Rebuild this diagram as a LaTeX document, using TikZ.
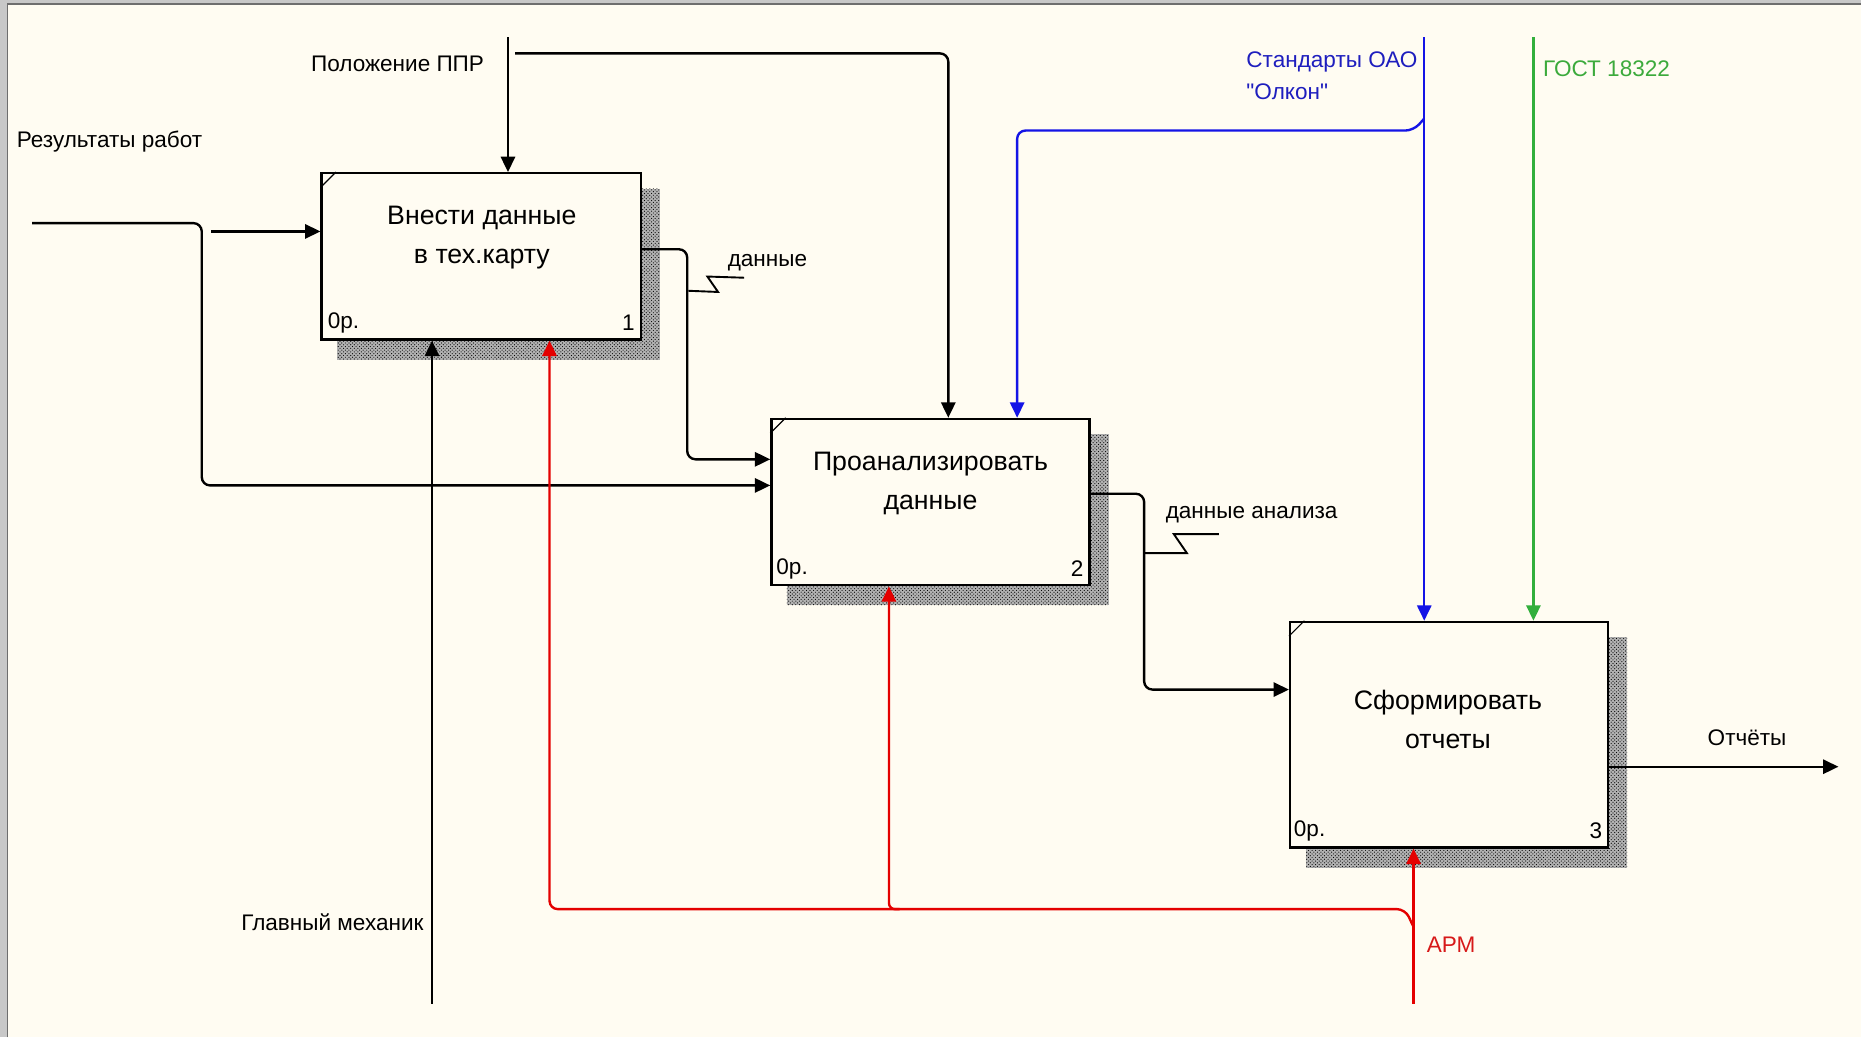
\documentclass[tikz,border=0pt]{standalone}
\usepackage{fontspec}
\setmainfont{Liberation Sans}
\usetikzlibrary{arrows.meta,patterns,calc}
\definecolor{cream}{RGB}{255,252,242}
\definecolor{framegray}{RGB}{200,200,200}
\definecolor{frameline}{RGB}{110,110,110}
\definecolor{idblue}{RGB}{20,20,230}
\definecolor{idbluetext}{RGB}{30,30,190}
\definecolor{idgreen}{RGB}{50,175,60}
\definecolor{idgreentext}{RGB}{60,170,60}
\definecolor{idred}{RGB}{228,0,0}
\definecolor{idredtext}{RGB}{215,25,25}
\pgfdeclarelayer{bg}
\pgfsetlayers{bg,main}
\begin{document}
\begin{tikzpicture}[x=1pt,y=-1pt,
  procbox/.style={draw=black, line width=2pt, fill=cream, inner sep=0pt},
  boxtext/.style={align=center, font=\fontsize{22.5}{33}\selectfont, inner sep=0pt},
  lbl/.style={font=\fontsize{19}{27}\selectfont, inner sep=0pt},
  conn/.style={line width=2pt, line cap=rect},
  tip/.style={-{Triangle[length=13pt,width=12pt]}},
  squig/.style={line width=1.6pt},
  rc/.style={rounded corners=7pt}]
\useasboundingbox (0,0) rectangle (1568,874);

% process boxes
\node[procbox, minimum width=269pt, minimum height=140pt] (b1) at (405.5,216) {};
\node[procbox, minimum width=268pt, minimum height=140pt] (b2) at (784,423) {};
\node[procbox, minimum width=268pt, minimum height=190pt] (b3) at (1221,619) {};

\foreach \b in {b1,b2,b3}{
  \draw[line width=1pt] ($(\b.north west)+(0,13)$) -- ($(\b.north west)+(13,0)$);
}

\node[boxtext] (t1) at (406,200.5) {Внести данные\\в тех.карту};
\node[boxtext] (t2) at (784,407.5) {Проанализировать\\данные};
\node[boxtext] (t3) at (1220,606.5) {Сформировать\\отчеты};

\node[lbl, anchor=west] (o1) at ($(b1.south west)+(6,-15)$) {0р.};
\node[lbl, anchor=east] (k1) at ($(b1.south east)+(-6,-15)$) {1};
\node[lbl, anchor=west] (o2) at ($(b2.south west)+(5,-15)$) {0р.};
\node[lbl, anchor=east] (k2) at ($(b2.south east)+(-6,-15)$) {2};
\node[lbl, anchor=west] (o3) at ($(b3.south west)+(4,-15)$) {0р.};
\node[lbl, anchor=east] (k3) at ($(b3.south east)+(-6,-15)$) {3};

% labels
\node[lbl, anchor=west] (lRes) at (14,119) {Результаты работ};
\node[lbl, anchor=east] (lPpr) at (408,54) {Положение ППР};
\node[lbl, anchor=west] (lData) at (613,221) {данные};
\node[lbl, anchor=west] (lAn) at (982,434) {данные анализа};
\node[lbl, anchor=west, align=left, text=idbluetext] (lStd) at (1050,63.5) {Стандарты ОАО\\\textquotedbl Олкон\textquotedbl};
\node[lbl, anchor=west, text=idgreentext] (lGost) at (1300,58) {ГОСТ 18322};
\node[lbl, anchor=west, text=idredtext] (lArm) at (1202,796) {АРМ};
\node[lbl, anchor=east] (lMech) at (357,777) {Главный механик};
\node[lbl] (lOut) at (1472,622) {Отчёты};

% free ends
\coordinate (rIn) at (28,188);
\coordinate (rBr) at (179,195);
\coordinate (pIn) at (428,32);
\coordinate (pBr) at (435,45);
\coordinate (sIn) at (1200,32);
\coordinate (sBr) at (1199,101);
\coordinate (gIn) at (1292,32);
\coordinate (aIn) at (1191,845);
\coordinate (aBr) at (1190,779);
\coordinate (mIn) at (364,845);
\coordinate (oOut) at (1549,646);

% Результаты работ
\draw[conn, rc, tip] (rIn) -- (170,188) -- (170,409) -- ($(b2.west)+(0,-14)$);
\draw[conn, tip] (rBr) -- ($(b1.west)+(0,-21)$);

% Положение ППР
\draw[conn, tip] (pIn) -- (pIn |- b1.north);
\draw[conn, rc, tip] (pBr) -- (799,45) -- ($(b2.north)+(15,0)$);

% данные
\draw[conn, rc, tip] ($(b1.east)+(0,-6)$) -- (579,210) -- (579,387) -- ($(b2.west)+(0,-36)$);
\draw[squig] (580,245) -- (605,246) -- (596,233) -- (627,234);

% данные анализа
\draw[conn, rc, tip] ($(b2.east)+(0,-7)$) -- (964,416) -- (964,581) -- ($(b3.west)+(0,-38)$);
\draw[squig] (964,466) -- (1000,466) -- (989,450) -- (1027,450);

% Стандарты ОАО
\draw[conn, idblue, tip] (sIn) -- (sIn |- b3.north);
\draw[conn, idblue, rc, tip] (sBr) -- (1191,110) -- (857,110) -- ($(b2.north)+(73,0)$);

% ГОСТ
\draw[conn, idgreen, tip] (gIn) -- (gIn |- b3.north);

% АРМ
\draw[conn, idred, tip] (aIn) -- (aIn |- b3.south);
\draw[conn, idred, rc, tip] (aBr) -- (1184,766) -- (463,766) -- ($(b1.south)+(57.5,0)$);
\draw[conn, idred, rounded corners=5pt, tip] (757,766) -- (749,766) -- ($(b2.south)+(-35,0)$);

% Главный механик
\draw[conn, tip] (mIn) -- (mIn |- b1.south);

% Отчёты
\draw[conn, tip] ($(b3.east)+(0,27)$) -- (oOut);

% background and shadows
\begin{pgfonlayer}{bg}
\fill[cream] (0,0) rectangle (1568,874);
\fill[framegray] (0,0) rectangle (6,874);
\fill[framegray] (0,0) rectangle (1568,3);
\draw[frameline, line width=1.2pt] (6.5,874) -- (6.5,3.5) -- (1568,3.5);
\foreach \b in {b1,b2,b3}{
  \fill[black!30] ($(\b.south west)+(14,16)$) rectangle ($(\b.north east)+(15,14)$);
  \fill[pattern=crosshatch dots, pattern color=black] ($(\b.south west)+(14,16)$) rectangle ($(\b.north east)+(15,14)$);
}
\end{pgfonlayer}
\end{tikzpicture}
\end{document}
